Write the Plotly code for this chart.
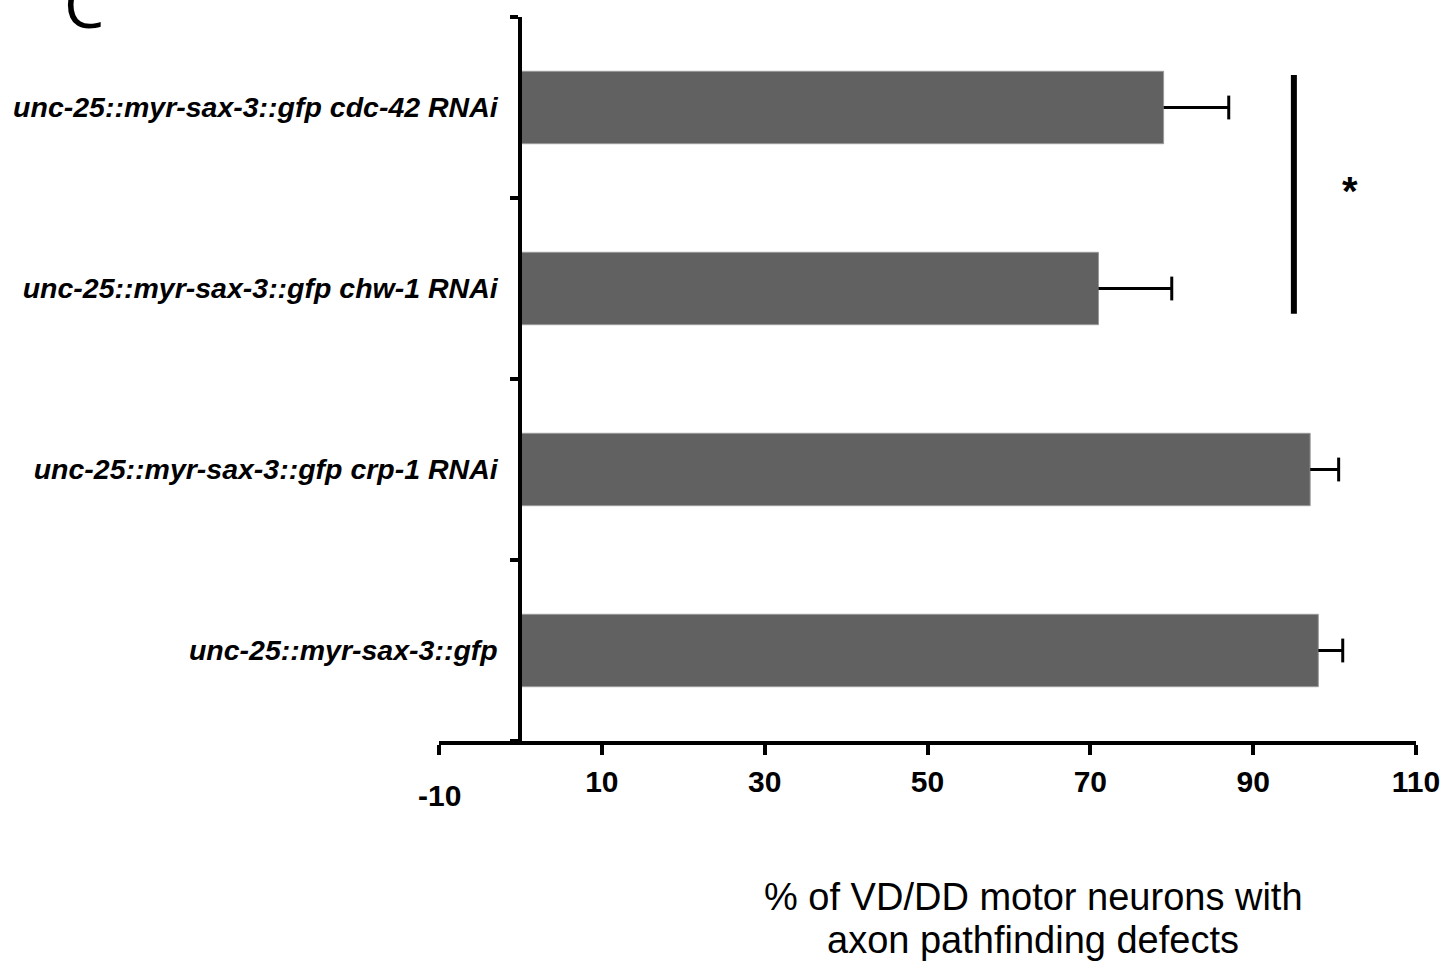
import plotly.graph_objects as go

# Genotypes, bottom to top as drawn on the category axis
genotypes = [
    "unc-25::myr-sax-3::gfp",
    "unc-25::myr-sax-3::gfp crp-1 RNAi",
    "unc-25::myr-sax-3::gfp chw-1 RNAi",
    "unc-25::myr-sax-3::gfp cdc-42 RNAi",
]
# % of VD/DD neurons with axon pathfinding defects, and the upper error (SEM)
defect_pct = [98, 97, 71, 79]
defect_err = [3, 3.5, 9, 8]

x_tickvals = [-10, 10, 30, 50, 70, 90, 110]
x_ticktext = ["", "10", "30", "50", "70", "90", "110"]

BAR_COLOR = "#616161"
FONT = "Liberation Sans, Arial, sans-serif"

fig = go.Figure()

fig.add_trace(go.Bar(
    x=defect_pct,
    y=genotypes,
    orientation="h",
    width=0.4,
    marker=dict(color=BAR_COLOR, line=dict(color="#9a9a9a", width=1)),
    showlegend=False,
    hoverinfo="skip",
))

# One-sided error whiskers: stem from the bar end, cap at bar end + error
stem_x, stem_y = [], []
for g, v, e in zip(genotypes, defect_pct, defect_err):
    stem_x += [v, v + e, None]
    stem_y += [g, g, None]
fig.add_trace(go.Scatter(
    x=stem_x, y=stem_y, mode="lines",
    line=dict(color="black", width=3),
    showlegend=False, hoverinfo="skip",
))
fig.add_trace(go.Scatter(
    x=[v + e for v, e in zip(defect_pct, defect_err)],
    y=genotypes, mode="markers",
    marker=dict(symbol="line-ns", size=17, line=dict(color="black", width=3)),
    showlegend=False, hoverinfo="skip",
))

# Significance bracket between the chw-1 and cdc-42 knockdowns
sig_x = 95
i_lo = genotypes.index("unc-25::myr-sax-3::gfp chw-1 RNAi")
i_hi = genotypes.index("unc-25::myr-sax-3::gfp cdc-42 RNAi")
fig.add_shape(type="line", xref="x", yref="y",
              x0=sig_x, x1=sig_x, y0=i_lo - 0.14, y1=i_hi + 0.18,
              line=dict(color="black", width=6))
fig.add_annotation(x=sig_x + 6.9, y=(i_lo + i_hi) / 2 + 0.04, xref="x", yref="y",
                   text="<b>*</b>", showarrow=False,
                   font=dict(family=FONT, size=40, color="black"))

# The -10 label sits lower than the rest of the x tick labels
fig.add_annotation(x=-10, y=0, xref="x", yref="paper", yanchor="top",
                   yshift=-36, text="<b>-10</b>", showarrow=False,
                   font=dict(family=FONT, size=30, color="black"))

# Axis title, two centred lines
fig.add_annotation(x=63, y=0, xref="x", yref="paper", yanchor="middle",
                   yshift=-156, text="% of VD/DD motor neurons with",
                   showarrow=False, font=dict(family=FONT, size=38, color="black"))
fig.add_annotation(x=63, y=0, xref="x", yref="paper", yanchor="middle",
                   yshift=-199, text="axon pathfinding defects",
                   showarrow=False, font=dict(family=FONT, size=38, color="black"))

# Panel letter
fig.add_annotation(x=-0.3635, y=1.0, xref="paper", yref="paper",
                   xanchor="center", yanchor="middle", yshift=14,
                   text="C", showarrow=False,
                   font=dict(family="Open Sans, sans-serif", size=64, color="black"))

fig.update_layout(
    width=1452, height=967,
    margin=dict(l=439, r=30, t=17, b=226, pad=0),
    paper_bgcolor="white", plot_bgcolor="white",
    bargap=0.6,
    xaxis=dict(
        range=[-10, 110], tickmode="array",
        tickvals=x_tickvals, ticktext=x_ticktext,
        ticks="outside", ticklen=10, tickwidth=4, tickcolor="black",
        showline=True, linewidth=4, linecolor="black",
        showgrid=False, zeroline=False,
        tickfont=dict(family=FONT, size=30, color="black", weight="bold"),
        ticklabelstandoff=1,
    ),
    yaxis=dict(
        type="category", categoryorder="array", categoryarray=genotypes,
        range=[-0.5, 3.5], anchor="free", position=(0 - (-10)) / 120,
        ticks="outside", tickson="boundaries", ticklen=8, tickwidth=4,
        tickcolor="black", showline=True, linewidth=4, linecolor="black",
        showgrid=False, zeroline=False,
        tickfont=dict(family=FONT, size=28.5, color="black",
                      weight="bold", style="italic"),
        ticklabelstandoff=15,
    ),
)

fig.write_html("out.html")
